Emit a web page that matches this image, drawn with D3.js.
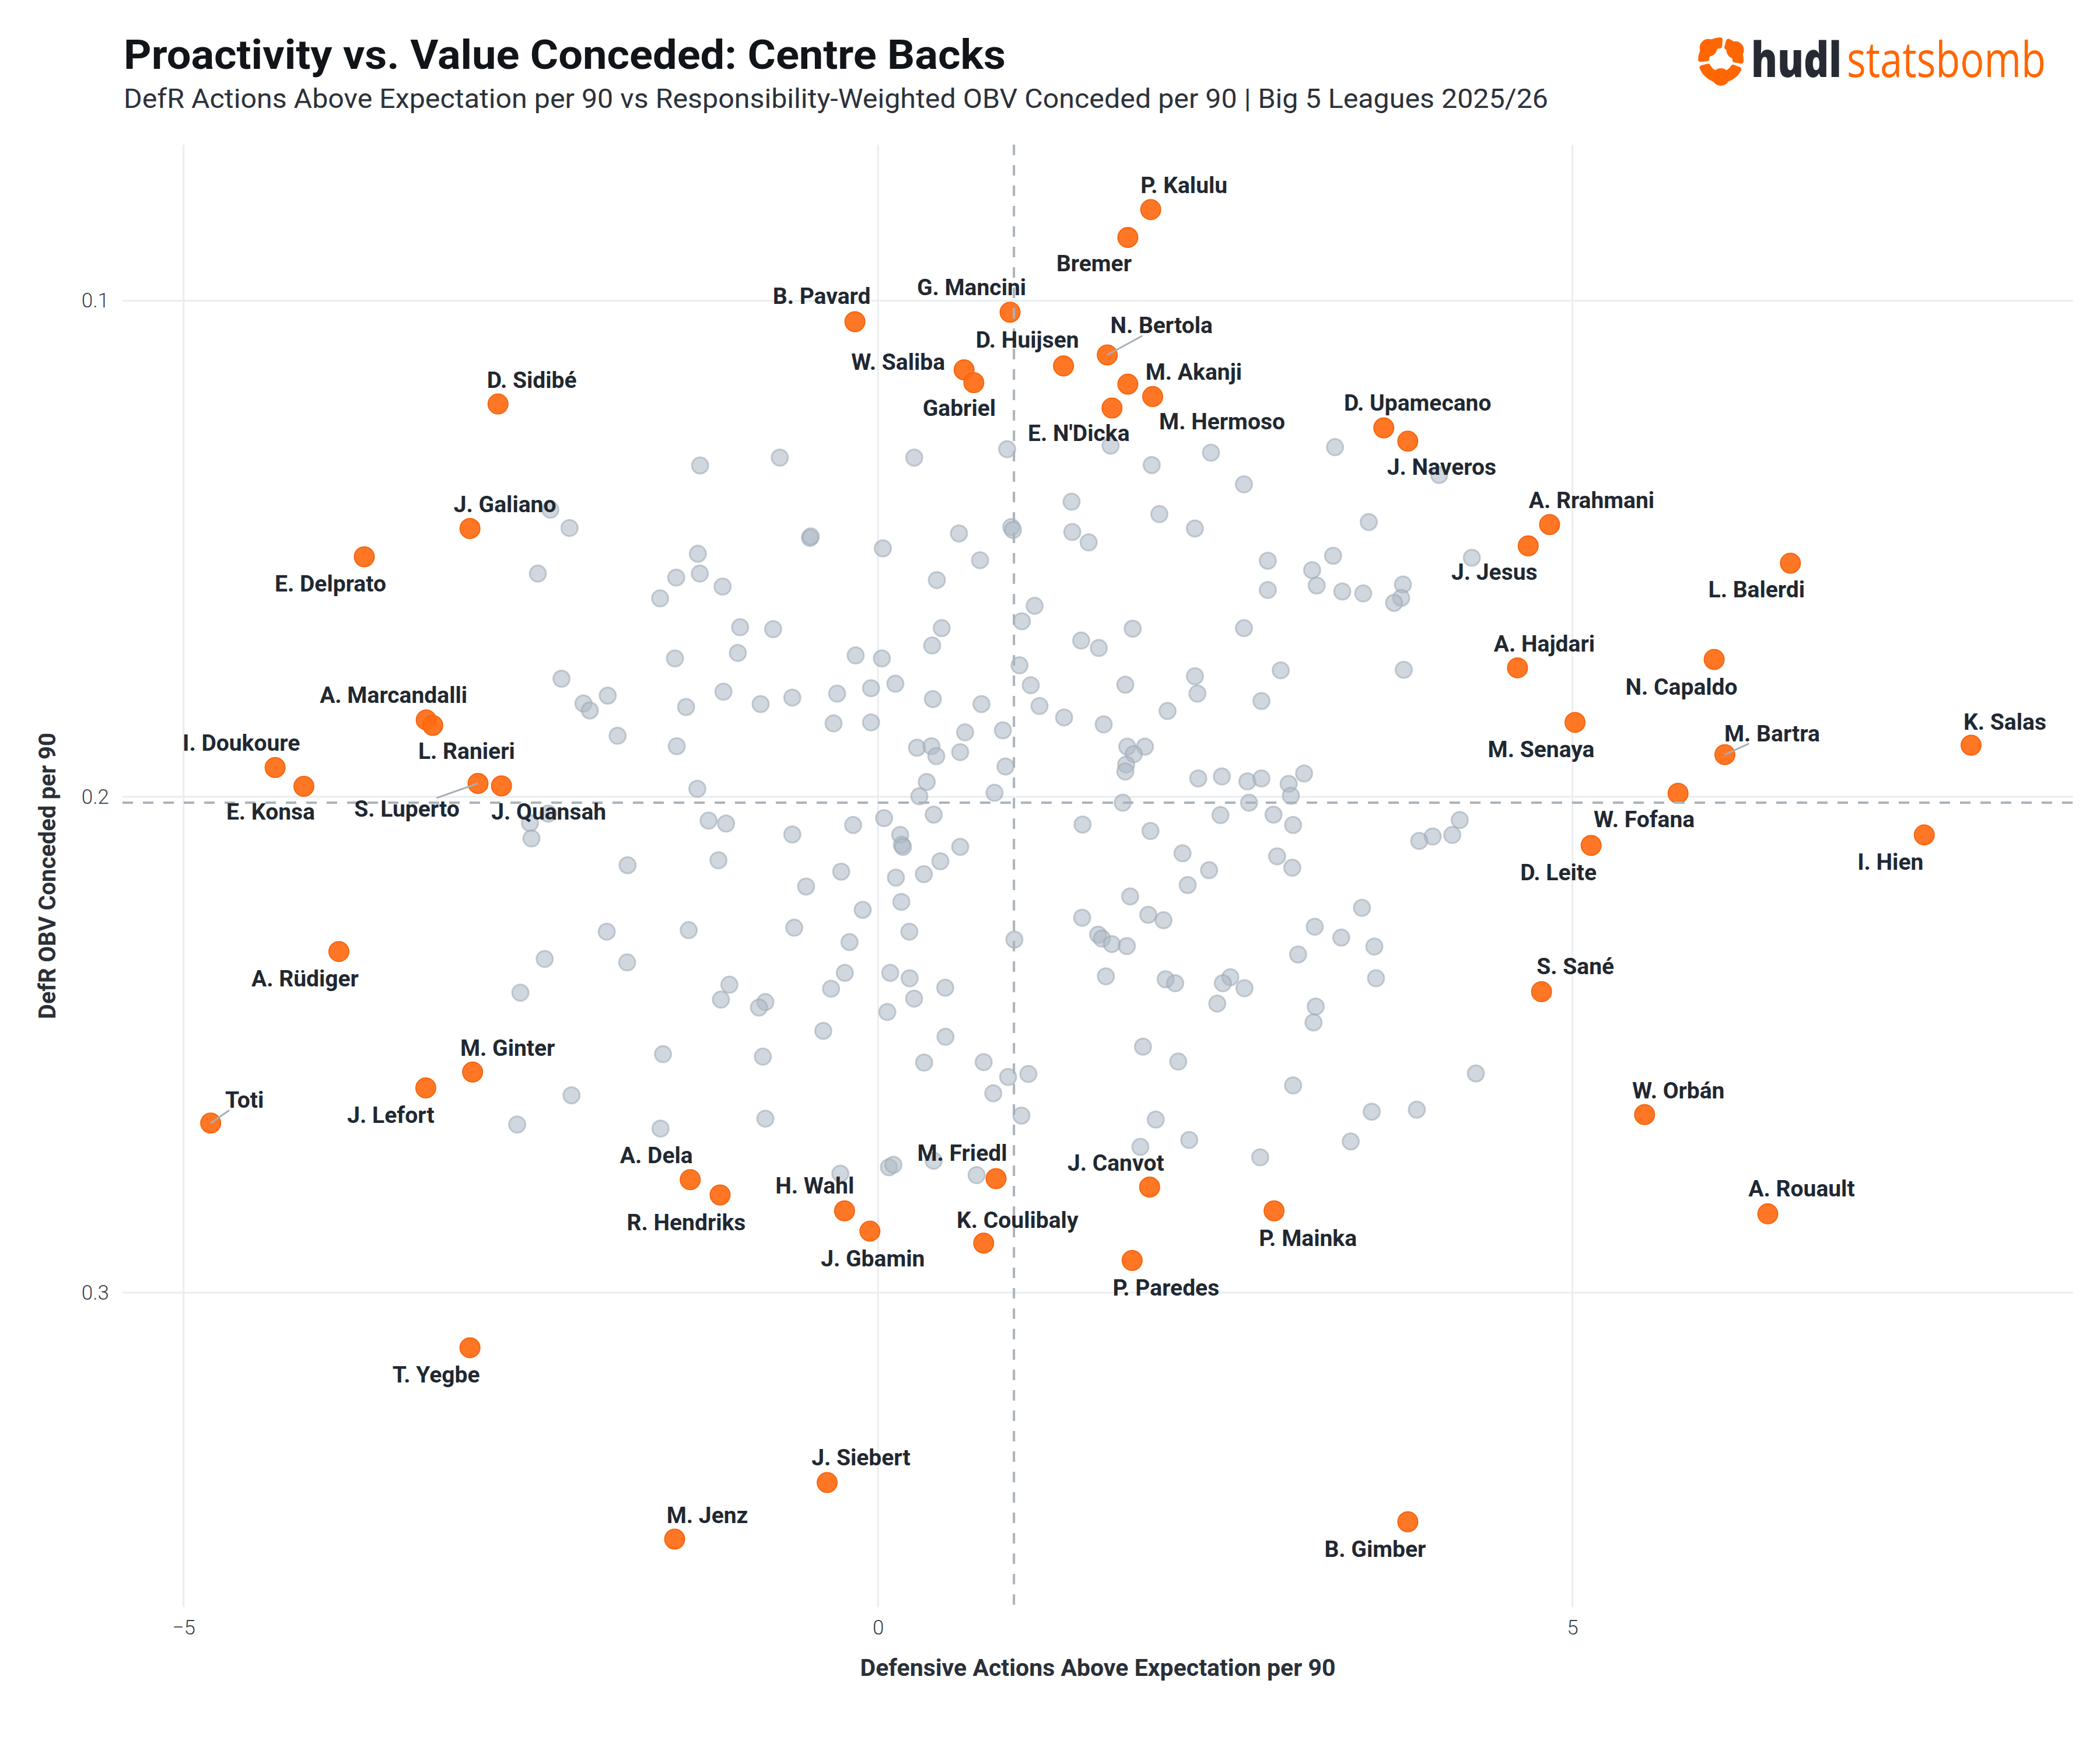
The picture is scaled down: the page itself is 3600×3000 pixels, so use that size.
<!DOCTYPE html>
<html><head><meta charset="utf-8">
<script src="https://cdn.jsdelivr.net/npm/d3@7"></script>
<style>body{margin:0;background:#fff;} svg{display:block;}</style>
</head><body>
<svg id="chart" width="3600" height="3000"></svg>
<script>
// ---------------- DATA ----------------
const titleText = "Proactivity vs. Value Conceded: Centre Backs";
const subtitleText = "DefR Actions Above Expectation per 90 vs Responsibility-Weighted OBV Conceded per 90 | Big 5 Leagues 2025/26";
const xAxisTitle = "Defensive Actions Above Expectation per 90";
const yAxisTitle = "DefR OBV Conceded per 90";
const xTickValues = [-5, 0, 5];
const yTickValues = [0.1, 0.2, 0.3];
const meanX = 0.979;
const meanY = 0.2012;

const highlightNames = ["P. Kalulu","Bremer","G. Mancini","B. Pavard","N. Bertola","D. Huijsen","W. Saliba","Gabriel","M. Akanji","M. Hermoso","E. N'Dicka","D. Sidibé","D. Upamecano","J. Naveros","A. Rrahmani","J. Jesus","J. Galiano","E. Delprato","L. Balerdi","A. Hajdari","N. Capaldo","M. Senaya","A. Marcandalli","L. Ranieri","I. Doukoure","E. Konsa","S. Luperto","J. Quansah","W. Fofana","D. Leite","M. Bartra","K. Salas","I. Hien","A. Rüdiger","S. Sané","M. Ginter","J. Lefort","Toti","W. Orbán","A. Dela","R. Hendriks","M. Friedl","J. Canvot","H. Wahl","J. Gbamin","K. Coulibaly","P. Mainka","A. Rouault","P. Paredes","T. Yegbe","J. Siebert","M. Jenz","B. Gimber"];
const highlightX = [1.964,1.799,0.951,-0.166,1.651,1.336,0.62,0.69,1.799,1.978,1.685,-2.736,3.642,3.815,4.836,4.682,-2.938,-3.699,6.57,4.605,6.021,5.019,-3.253,-3.206,-4.341,-4.134,-2.88,-2.711,5.761,5.135,6.098,7.871,7.534,-3.882,4.778,-2.919,-3.256,-4.805,5.52,-1.352,-1.137,0.85,1.956,-0.241,-0.058,0.761,2.852,6.407,1.83,-2.938,-0.366,-1.464,3.815];
const highlightY = [0.0816,0.0872,0.1023,0.1042,0.1109,0.1131,0.1139,0.1165,0.1168,0.1193,0.1216,0.1208,0.1256,0.1283,0.1451,0.1494,0.1459,0.1516,0.1529,0.174,0.1723,0.185,0.1845,0.1856,0.1941,0.1979,0.1973,0.1978,0.1993,0.2098,0.1915,0.1896,0.2077,0.2312,0.2393,0.2555,0.2587,0.2658,0.2641,0.2772,0.2803,0.277,0.2787,0.2835,0.2876,0.29,0.2835,0.2841,0.2935,0.3111,0.3383,0.3497,0.3462];

const otherPlayers = [
[-1.281,0.1332],[-0.707,0.1316],[0.261,0.1316],[0.93,0.1299],[-2.359,0.1421],[-2.221,0.1458],[-0.49,0.1478],[-0.484,0.1475],[0.035,0.1499],[0.583,0.1469],[0.96,0.1456],[0.972,0.1462],[-1.297,0.151],[-2.449,0.155],[-1.453,0.1558],[-1.283,0.155],[-1.119,0.1576],[-1.569,0.16],[0.735,0.1523],[0.424,0.1563],[-0.993,0.1658],[-0.755,0.1662],[-1.009,0.171],[-1.462,0.1721],[0.459,0.166],[0.39,0.1695],[-0.161,0.1715],[0.028,0.1721],[-2.279,0.1762],[-2.121,0.1812],[-2.075,0.1826],[-1.946,0.1796],[-1.382,0.1819],[-1.113,0.1788],[-0.845,0.1813],[-0.617,0.18],[-0.294,0.1792],[-0.05,0.1781],[0.125,0.1772],[0.395,0.1803],[0.745,0.1813],[-0.32,0.1852],[-0.05,0.185],[-1.875,0.1877],[-1.449,0.1898],[0.627,0.187],[0.899,0.1866],[0.281,0.1901],[0.385,0.1898],[0.42,0.1918],[0.592,0.191],[0.918,0.1939],[0.351,0.197],[0.298,0.1999],[0.839,0.1992],[-1.301,0.1984],
[1.675,0.1292],[2.398,0.1306],[1.971,0.1331],[2.635,0.137],[3.291,0.1295],[4.041,0.1351],[1.394,0.1405],[2.026,0.143],[1.399,0.1466],[1.517,0.1487],[2.282,0.1459],[3.534,0.1446],[4.276,0.1518],[2.807,0.1524],[3.126,0.1543],[3.277,0.1514],[3.159,0.1574],[2.807,0.1583],[3.343,0.1586],[3.494,0.159],[3.78,0.1572],[3.767,0.1599],[3.716,0.1609],[1.128,0.1615],[1.036,0.1646],[1.834,0.1661],[2.635,0.166],[1.463,0.1685],[1.59,0.17],[1.019,0.1735],[1.1,0.1775],[1.781,0.1774],[2.282,0.1757],[2.3,0.1792],[2.9,0.1745],[3.786,0.1744],[2.761,0.1807],[1.163,0.1817],[1.34,0.184],[1.625,0.1854],[2.085,0.1827],[1.795,0.1899],[1.922,0.1899],[1.842,0.1914],[1.787,0.1935],[1.781,0.1949],[2.306,0.1963],[2.476,0.1959],[2.66,0.1969],[2.761,0.1963],[2.957,0.1974],[3.068,0.1953],[2.973,0.1998],[1.762,0.2012],[2.672,0.2012],
[-2.375,0.2034],[-2.506,0.2053],[-2.495,0.2084],[-1.22,0.2048],[-1.094,0.2054],[-0.617,0.2076],[-0.179,0.2057],[0.044,0.2043],[0.401,0.2036],[0.16,0.2077],[0.172,0.2097],[0.18,0.2101],[0.592,0.2101],[0.449,0.213],[0.33,0.2156],[0.129,0.2163],[-1.149,0.2128],[-1.803,0.2138],[-0.265,0.2151],[-0.518,0.2181],[-0.11,0.2228],[0.168,0.2212],[-0.603,0.2264],[0.226,0.2272],[-0.205,0.2293],[-1.953,0.2272],[-1.363,0.2269],[-2.4,0.2327],[-1.806,0.2334],[-2.575,0.2395],[-1.07,0.2379],[-1.131,0.2409],[-0.811,0.2414],[-0.857,0.2425],[-0.239,0.2355],[-0.338,0.2387],[0.088,0.2355],[0.228,0.2366],[0.484,0.2385],[0.26,0.2407],[0.067,0.2434],[-0.394,0.2472],[0.486,0.2484],[-1.548,0.2519],[-0.829,0.2524],[0.332,0.2536],[0.761,0.2535],[0.937,0.2565],[0.83,0.2598],[-2.207,0.2602],[-2.598,0.2661],[-1.566,0.2669],[-0.811,0.2649],[0.401,0.2734],[0.079,0.2747],[0.111,0.2742],[-0.271,0.276],[0.71,0.2763],
[2.466,0.2037],[2.848,0.2036],[2.989,0.2057],[1.473,0.2056],[1.962,0.2069],[2.193,0.2114],[2.384,0.2148],[2.23,0.2178],[2.874,0.212],[2.983,0.2143],[4.189,0.2047],[4.135,0.2077],[3.994,0.208],[3.897,0.2089],[1.816,0.2201],[1.47,0.2244],[1.946,0.2238],[2.056,0.2249],[1.585,0.2278],[1.613,0.2286],[1.684,0.2297],[1.792,0.2301],[0.982,0.2288],[3.485,0.2224],[3.145,0.2262],[3.336,0.2284],[3.574,0.2302],[3.025,0.2318],[3.586,0.2366],[1.641,0.2362],[2.071,0.2368],[2.14,0.2376],[2.537,0.2364],[2.483,0.2376],[2.639,0.2386],[2.443,0.2417],[3.152,0.2423],[3.136,0.2455],[1.908,0.2504],[2.162,0.2534],[1.083,0.2559],[1.033,0.2643],[2.989,0.2582],[4.305,0.2558],[3.555,0.2635],[3.88,0.2631],[2.0,0.2651],[2.241,0.2692],[1.889,0.2706],[3.404,0.2695],[2.752,0.2727]
];

// ---------------- LAYOUT (label placement, px offsets from point) ----------------
const labelPlacement = {
 "P. Kalulu":[57,-42],"Bremer":[-58,44],"G. Mancini":[-66,-43],"B. Pavard":[-57,-44],"N. Bertola":[93,-51,1],
 "D. Huijsen":[-62,-45],"W. Saliba":[-113,-14],"Gabriel":[-25,43],"M. Akanji":[113,-22],"M. Hermoso":[119,42],
 "E. N'Dicka":[-57,43],"D. Sidibé":[58,-42],"D. Upamecano":[58,-43],"J. Naveros":[58,44],"A. Rrahmani":[72,-42],
 "J. Jesus":[-58,44],"J. Galiano":[60,-42],"E. Delprato":[-58,46],"L. Balerdi":[-58,44],"A. Hajdari":[46,-42],
 "N. Capaldo":[-56,47],"M. Senaya":[-58,46],"A. Marcandalli":[-56,-43],"L. Ranieri":[58,44],"I. Doukoure":[-58,-43],
 "E. Konsa":[-57,43],"S. Luperto":[-122,43,1],"J. Quansah":[81,44],"W. Fofana":[-58,44],"D. Leite":[-56,46],
 "M. Bartra":[81,-37,1],"K. Salas":[58,-40],"I. Hien":[-58,46],"A. Rüdiger":[-58,46],"S. Sané":[58,-44],
 "M. Ginter":[60,-42],"J. Lefort":[-60,46],"Toti":[58,-40,1],"W. Orbán":[58,-42],"A. Dela":[-58,-42],
 "R. Hendriks":[-58,46],"M. Friedl":[-58,-44],"J. Canvot":[-58,-42],"H. Wahl":[-51,-44],"J. Gbamin":[5,46],
 "K. Coulibaly":[58,-40],"P. Mainka":[58,46],"A. Rouault":[58,-44],"P. Paredes":[58,46],"T. Yegbe":[-58,46],
 "J. Siebert":[58,-44],"M. Jenz":[56,-42],"B. Gimber":[-56,46]
};

const W = 3600, H = 3000;
const panel = {left:210, right:3554, top:248, bottom:2755};
const svg = d3.select("#chart");
svg.append("rect").attr("width",W).attr("height",H).attr("fill","#ffffff");

const x = d3.scaleLinear().domain([-5.44, 8.606]).range([panel.left, panel.right]);
const y = d3.scaleLinear().domain([0.0685, 0.3634]).range([panel.top, panel.bottom]);

const font = "Roboto, 'Open Sans', 'DejaVu Sans', sans-serif";

// gridlines
const grid = svg.append("g");
grid.selectAll(".gx").data(xTickValues).join("line")
  .attr("x1",d=>x(d)).attr("x2",d=>x(d)).attr("y1",panel.top).attr("y2",panel.bottom)
  .attr("stroke","#eaedf0").attr("stroke-width",3);
grid.selectAll(".gy").data(yTickValues).join("line")
  .attr("x1",panel.left).attr("x2",panel.right).attr("y1",d=>y(d)).attr("y2",d=>y(d))
  .attr("stroke","#eaedf0").attr("stroke-width",3);

// axes (labels only)
const xAxis = svg.append("g").attr("transform",`translate(0,${panel.bottom})`)
  .call(d3.axisBottom(x).tickValues(xTickValues).tickSize(0).tickPadding(22).tickFormat(d3.format("d")));
const yAxis = svg.append("g").attr("transform",`translate(${panel.left},0)`)
  .call(d3.axisLeft(y).tickValues(yTickValues).tickSize(0).tickPadding(23).tickFormat(d3.format(".1f")));
[xAxis,yAxis].forEach(a=>{
  a.select(".domain").remove();
  a.selectAll("text").attr("font-family",font).attr("font-size",35).attr("font-weight",300).attr("fill","#3b4148");
});

// other points
svg.append("g").selectAll("circle").data(otherPlayers).join("circle")
  .attr("cx",d=>x(d[0])).attr("cy",d=>y(d[1])).attr("r",14)
  .attr("fill","#aebac6").attr("fill-opacity",0.58)
  .attr("stroke","#9aa8b5").attr("stroke-opacity",0.55).attr("stroke-width",3);

// highlighted points
const hl = highlightNames.map((n,i)=>({name:n, x:highlightX[i], y:highlightY[i]}));
svg.append("g").selectAll("circle").data(hl).join("circle")
  .attr("cx",d=>x(d.x)).attr("cy",d=>y(d.y)).attr("r",17)
  .attr("fill","#ff6b12").attr("fill-opacity",0.92)
  .attr("stroke","#f5650f").attr("stroke-width",2);

// mean lines
svg.append("line").attr("x1",x(meanX)).attr("x2",x(meanX)).attr("y1",panel.top).attr("y2",panel.bottom)
  .attr("stroke","#aab3bc").attr("stroke-width",4).attr("stroke-dasharray","18,17");
svg.append("line").attr("x1",panel.left).attr("x2",panel.right).attr("y1",y(meanY)).attr("y2",y(meanY))
  .attr("stroke","#aab3bc").attr("stroke-width",4).attr("stroke-dasharray","18,17");

// labels
const labG = svg.append("g");
const segG = svg.append("g");
hl.forEach(d=>{
  const p = labelPlacement[d.name] || [58,-42];
  const px = x(d.x), py = y(d.y);
  const cx = px + p[0], cy = py + p[1];
  const t = labG.append("text").attr("x",cx).attr("y",cy+14).attr("text-anchor","middle")
    .attr("font-family",font).attr("font-weight",700).attr("font-size",39).attr("fill","#212831")
    .text(d.name);
  if (p[2]) {
    const bb = t.node().getBBox();
    const hw = bb.width/2 + 4, hh = 18;
    const vx = px - cx, vy = py - cy;
    const s = Math.min(hw/Math.abs(vx||1e-6), hh/Math.abs(vy||1e-6));
    segG.append("line").attr("x1",px).attr("y1",py).attr("x2",cx+s*vx).attr("y2",cy+s*vy)
      .attr("stroke","#a7afb7").attr("stroke-width",3);
  }
});

// titles
function fitText(sel, target){ sel.attr("textLength",target).attr("lengthAdjust","spacingAndGlyphs"); }
const tt = svg.append("text").attr("x",212).attr("y",118).attr("font-family",font).attr("font-weight",700)
  .attr("font-size",70).attr("fill","#111418").text(titleText); fitText(tt,1512);
const st = svg.append("text").attr("x",212).attr("y",185).attr("font-family",font).attr("font-weight",400)
  .attr("font-size",47).attr("fill","#2c323a").text(subtitleText); fitText(st,2442);
svg.append("text").attr("x",(panel.left+panel.right)/2).attr("y",2873).attr("text-anchor","middle")
  .attr("font-family",font).attr("font-weight",700).attr("font-size",41).attr("fill","#2a3038").text(xAxisTitle);
svg.append("text").attr("transform",`translate(95,${(panel.top+panel.bottom)/2}) rotate(-90)`).attr("text-anchor","middle")
  .attr("font-family",font).attr("font-weight",700).attr("font-size",40).attr("fill","#2a3038").text(yAxisTitle);

// logo
const logo = svg.append("g");
const deg = Math.PI/180;
const arc = d3.arc().innerRadius(20).outerRadius(39).cornerRadius(4);
[[265,365],[15,100],[110,255]].forEach(a=>{
  logo.append("path").attr("d",arc({startAngle:a[0]*deg,endAngle:a[1]*deg})).attr("transform","translate(2950,103)").attr("fill","#ff6600");
});
[[315,30,15],[55,30,15],[180,29,15]].forEach(c=>{
  logo.append("circle").attr("cx",2950+c[1]*Math.sin(c[0]*deg)).attr("cy",103-c[1]*Math.cos(c[0]*deg)).attr("r",c[2]).attr("fill","#ff6600");
});
function scaledWord(str, x0, target, weight, color){
  const t = logo.append("text").attr("x",0).attr("y",0).attr("font-family","'Open Sans', Roboto, sans-serif")
    .attr("font-size",84).attr("font-weight",weight).attr("fill",color).text(str);
  const w = t.node().getComputedTextLength();
  t.attr("transform",`translate(${x0},132) scale(${target/w},1)`);
}
scaledWord("hudl", 3002, 155, 800, "#252a33");
scaledWord("statsbomb", 3166, 341, 400, "#ff6600");
</script>
</body></html>
